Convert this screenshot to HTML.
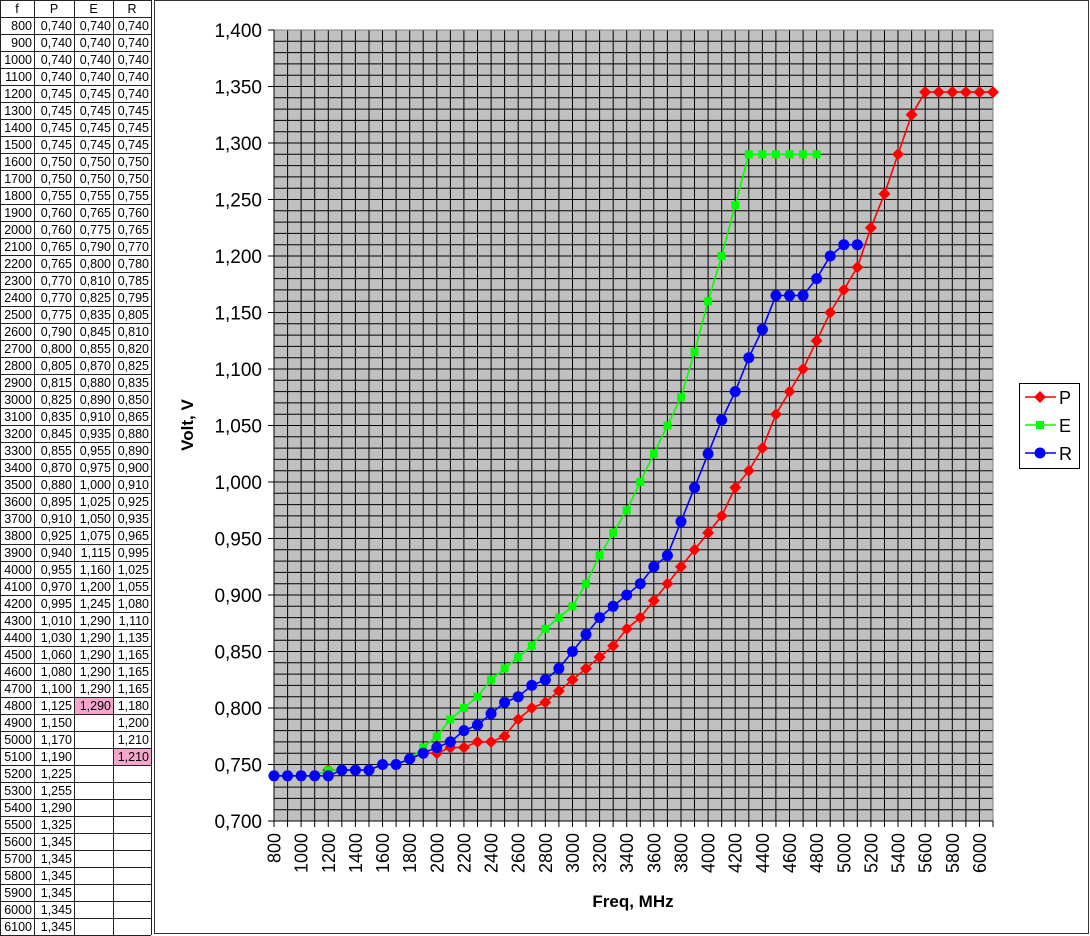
<!DOCTYPE html>
<html><head><meta charset="utf-8"><style>
html,body{margin:0;padding:0;background:#fff;width:1090px;height:936px;overflow:hidden}
svg text{font-family:"Liberation Sans",Arial,sans-serif}
</style></head><body>
<svg id="s" width="1090" height="936" xmlns="http://www.w3.org/2000/svg"></svg>
<script>
const P=[740,740,740,740,745,745,745,745,750,750,755,760,760,765,765,770,770,775,790,800,805,815,825,835,845,855,870,880,895,910,925,940,955,970,995,1010,1030,1060,1080,1100,1125,1150,1170,1190,1225,1255,1290,1325,1345,1345,1345,1345,1345,1345];
const E=[740,740,740,740,745,745,745,745,750,750,755,765,775,790,800,810,825,835,845,855,870,880,890,910,935,955,975,1000,1025,1050,1075,1115,1160,1200,1245,1290,1290,1290,1290,1290,1290];
const R=[740,740,740,740,740,745,745,745,750,750,755,760,765,770,780,785,795,805,810,820,825,835,850,865,880,890,900,910,925,935,965,995,1025,1055,1080,1110,1135,1165,1165,1165,1180,1200,1210,1210];
const fmt=v=>(v/1000).toFixed(3).replace('.',',');
let h='';
const cx=[0,34,74,113,151];
h+=`<rect x="0" y="0" width="151" height="935" fill="#fff"/>`;
h+=`<rect x="74" y="${17+40*17}" width="39" height="17" fill="#f4a6cc"/>`;
h+=`<rect x="113" y="${17+43*17}" width="38" height="17" fill="#f4a6cc"/>`;
for(let i=0;i<=55;i++){const y=i*17+0.5;h+=`<line x1="0" x2="151" y1="${y}" y2="${y}" stroke="#222" stroke-width="1"/>`;}
for(const x of cx){h+=`<line x1="${x+0.5}" x2="${x+0.5}" y1="0" y2="935" stroke="#222"/>`;}
const hd=['f','P','E','R'];
for(let c=0;c<4;c++)h+=`<text x="${(cx[c]+cx[c+1])/2}" y="13" font-size="12.5" text-anchor="middle">${hd[c]}</text>`;
for(let i=0;i<54;i++){const y=17+i*17+13;
 h+=`<text x="${cx[1]-2}" y="${y}" font-size="12.5" text-anchor="end">${800+i*100}</text>`;
 const cols=[P,E,R];
 for(let c=0;c<3;c++){const v=cols[c][i];if(v!==undefined)h+=`<text x="${cx[c+2]-2}" y="${y}" font-size="12.5" text-anchor="end">${fmt(v)}</text>`;}
}
h+=`<rect x="154.5" y="0.5" width="934" height="933" fill="#fff" stroke="#333"/>`;
const L=274,Rr=993,T=30,B=821;
const X=f=>L+(f-800)*(Rr-L)/5300, Y=v=>B-(v-700)*(B-T)/700;
h+=`<rect x="${L}" y="${T}" width="${Rr-L}" height="${B-T}" fill="#c0c0c0"/>`;
for(let i=1;i<53;i++){const x=X(800+i*100).toFixed(1);h+=`<line x1="${x}" x2="${x}" y1="${T}" y2="${B}" stroke="#000"/>`;}
for(let i=1;i<70;i++){const y=Y(700+i*10).toFixed(1);h+=`<line x1="${L}" x2="${Rr}" y1="${y}" y2="${y}" stroke="#000"/>`;}
h+=`<line x1="${L}" x2="${Rr}" y1="${T}" y2="${T}" stroke="#808080"/>`;
h+=`<line x1="${Rr}" x2="${Rr}" y1="${T}" y2="${B}" stroke="#808080"/>`;
h+=`<line x1="${L}" x2="${L}" y1="${T}" y2="${B+5}" stroke="#000"/>`;
h+=`<line x1="${L-5}" x2="${Rr}" y1="${B}" y2="${B}" stroke="#000"/>`;
for(let i=0;i<=14;i++){const v=700+i*50,y=Y(v);h+=`<line x1="${L-6}" x2="${L}" y1="${y}" y2="${y}" stroke="#000"/><text x="${L-12}" y="${y+7}" font-size="19" text-anchor="end">${fmt(v)}</text>`;}
for(let i=0;i<=53;i++){const x=X(800+i*100);h+=`<line x1="${x}" x2="${x}" y1="${B}" y2="${B+6}" stroke="#000"/>`;}
for(let f=800;f<=6000;f+=200){const x=X(f);h+=`<text transform="translate(${x+6.5},${B+12}) rotate(-90)" font-size="18" text-anchor="end">${f}</text>`;}
h+=`<text transform="translate(193,425) rotate(-90)" font-size="17" font-weight="bold" text-anchor="middle">Volt, V</text>`;
h+=`<text x="633" y="907" font-size="17" font-weight="bold" text-anchor="middle">Freq, MHz</text>`;
function series(d,col,mk){let pts=d.map((v,i)=>X(800+i*100).toFixed(1)+','+Y(v).toFixed(1)).join(' ');
 h+=`<polyline points="${pts}" fill="none" stroke="${col}" stroke-width="1.6"/>`;
 d.forEach((v,i)=>{h+=mk(X(800+i*100),Y(v));});}
const dia=c=>(x,y)=>`<polygon points="${x},${y-6} ${x+6},${y} ${x},${y+6} ${x-6},${y}" fill="${c}"/>`;
const sq=c=>(x,y)=>`<rect x="${x-4}" y="${y-4}" width="8" height="8" fill="${c}"/>`;
const ci=c=>(x,y)=>`<circle cx="${x}" cy="${y}" r="5.5" fill="${c}"/>`;
series(P,'#ff0000',dia('#ff0000'));
series(E,'#00ff00',sq('#00ff00'));
series(R,'#0000ff',ci('#0000ff'));
h+=`<rect x="1019.5" y="383.5" width="60" height="85" fill="#fff" stroke="#000"/>`;
const lg=[['P','#ff0000',dia('#ff0000')],['E','#00ff00',sq('#00ff00')],['R','#0000ff',ci('#0000ff')]];
lg.forEach((l,i)=>{const y=397+i*28;h+=`<line x1="1025" x2="1056" y1="${y}" y2="${y}" stroke="${l[1]}" stroke-width="1.6"/>`+l[2](1040,y)+`<text x="1059" y="${y+7}" font-size="18">${l[0]}</text>`;});
document.getElementById('s').innerHTML=h;
</script>
</body></html>
